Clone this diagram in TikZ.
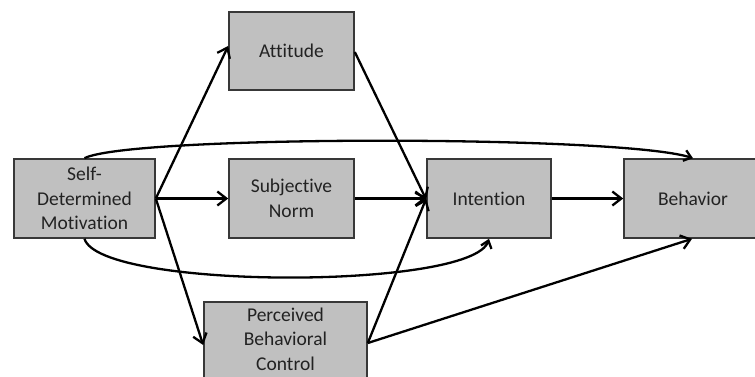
\documentclass[tikz,border=0pt]{standalone}
\usepackage{fontspec}
\setmainfont[Ligatures=NoCommon]{Carlito}
\usetikzlibrary{arrows.meta}
\definecolor{boxfill}{HTML}{C0C0C0}
\definecolor{boxline}{HTML}{383838}
\definecolor{txt}{HTML}{222222}
\begin{document}
\begin{tikzpicture}[x=1pt,y=-1pt,
  box/.style={draw=boxline,fill=boxfill,line width=1.6pt,inner sep=0pt,
    align=center,text=txt,font=\fontsize{19.5}{24.5}\selectfont},
  conn/.style={line width=2.3pt,black,-{Straight Barb[length=9pt,width=14pt,line width=2.3pt]}},
  curv/.style={line width=2.3pt,black,-{Straight Barb[length=7pt,width=11pt,line width=2.3pt]}}]
\useasboundingbox (0,0) rectangle (755,376);
\clip (0,0) rectangle (755,376);
\node[box,minimum width=141pt,minimum height=79pt] (sdm) at (84.5,198.5) {Self-\\Determined\\Motivation};
\node[box,minimum width=125pt,minimum height=78pt] (att) at (291.5,51) {Attitude};
\node[box,minimum width=125pt,minimum height=79pt] (sn) at (291.5,198.5) {Subjective\\Norm};
\node[box,minimum width=163pt,minimum height=79pt] (pbc) at (285.5,341.5) {};
\node[align=center,text=txt,inner sep=0pt,font=\fontsize{19.5}{24.5}\selectfont] (pbct) at (285.5,339) {Perceived\\Behavioral\\Control};
\node[box,minimum width=124pt,minimum height=79pt] (int) at (489,198.5) {Intention};
\node[box,minimum width=138pt,minimum height=79pt] (beh) at (693,198.5) {Behavior};
\coordinate (sdmE) at (sdm.east);
\coordinate (pbcE) at ([yshift=-1.5pt]pbc.east);
\draw[conn] (sdmE) -- ([yshift=5pt]att.west);
\draw[conn] (sdmE) -- (sn.west);
\draw[conn] (sdmE) -- ([yshift=-3.5pt]pbc.west);
\draw[conn] ([yshift=-1pt]att.east) -- ([yshift=-1pt]int.west);
\draw[conn] (sn.east) -- (int.west);
\draw[conn] (pbcE) -- (int.west);
\draw[conn] (pbcE) -- ([xshift=-1pt]beh.south);
\draw[conn] (int.east) -- (beh.west);
\draw[curv] (sdm.north) .. controls (130,135) and (620,135) .. (beh.north);
\draw[curv] (sdm.south) .. controls (100,290) and (472,290) .. (int.south);
\end{tikzpicture}
\end{document}
